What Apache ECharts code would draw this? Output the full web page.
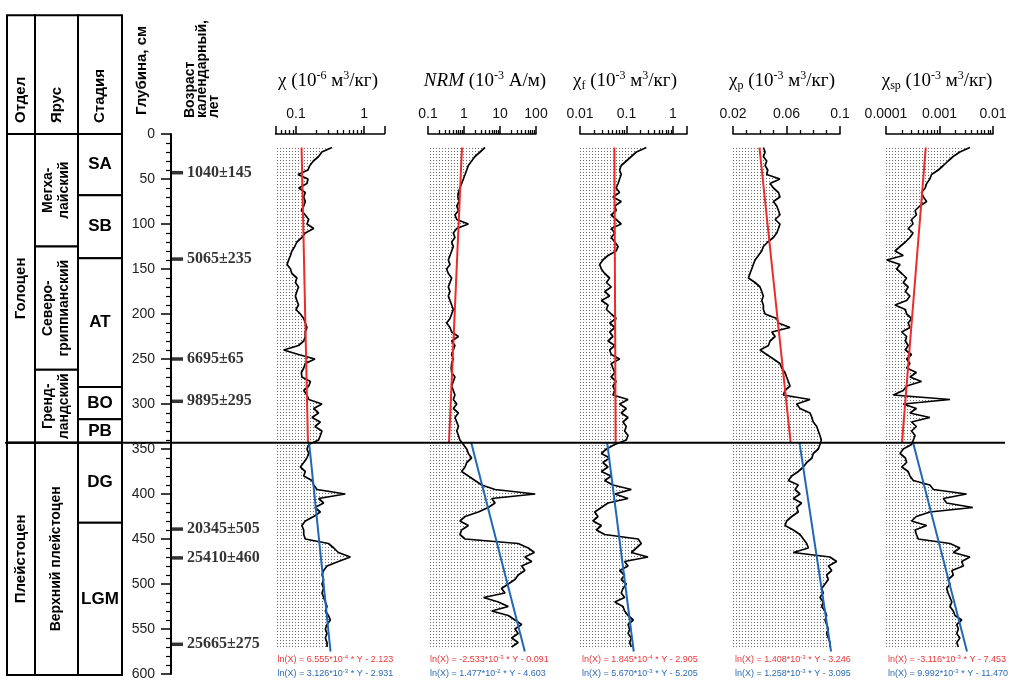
<!DOCTYPE html>
<html>
<head>
<meta charset="utf-8">
<script src="https://cdn.jsdelivr.net/npm/echarts@6/dist/echarts.min.js"></script>
<style>
  html, body { margin: 0; padding: 0; background: #fff; }
  #chart { width: 1011px; height: 680px; }
</style>
</head>
<body>
<div id="chart"></div>
<script>
// ---------- Core data: magnetic parameters vs depth (cm), sampled every 5 cm from 15 cm ----------
const DEPTH_FIRST = 15;
const DEPTH_STEP = 5;

// χ, 10^-6 m3/kg
const chiValues = [
  0.338,0.24,0.215,0.18,0.16,0.15,0.107,0.15,0.145,0.11,
  0.137,0.13,0.137,0.13,0.12,0.137,0.154,0.145,0.182,0.137,
  0.122,0.103,0.096,0.087,0.083,0.078,0.074,0.083,0.087,0.103,
  0.098,0.109,0.103,0.098,0.103,0.109,0.1,0.116,0.13,0.137,
  0.145,0.137,0.137,0.13,0.109,0.066,0.109,0.19,0.137,0.13,
  0.12,0.122,0.163,0.154,0.13,0.145,0.154,0.241,0.182,0.215,
  0.172,0.228,0.19,0.241,0.228,0.215,0.154,0.145,0.154,0.145,
  0.13,0.116,0.137,0.13,0.172,0.182,0.204,0.53,0.215,0.255,
  0.19,0.228,0.182,0.137,0.122,0.13,0.13,0.137,0.30,0.36,
  0.42,0.63,0.42,0.286,0.255,0.241,0.255,0.241,0.255,0.241,
  0.255,0.27,0.286,0.27,0.30,0.32,0.286,0.27,0.286,0.27,
  0.286,0.286
];
// NRM, 10^-3 A/m
const nrmValues = [
  3.83,2.8,2.02,1.63,1.32,1.19,1.07,0.96,0.86,0.77,
  0.70,0.67,0.74,0.63,0.70,0.56,0.63,1.32,0.63,0.505,
  0.56,0.454,0.505,0.454,0.408,0.367,0.408,0.33,0.367,0.454,
  0.408,0.367,0.408,0.367,0.408,0.454,0.505,0.454,0.408,0.33,
  0.408,0.454,0.70,0.454,0.56,0.505,0.454,0.505,0.454,0.44,
  0.454,0.56,0.505,0.454,0.505,0.56,0.505,0.63,0.505,0.70,
  0.56,0.63,0.70,0.63,0.70,0.77,0.96,1.19,1.32,1.63,
  1.19,1.07,0.86,1.32,2.02,3.1,7.3,95,5.9,7.3,
  4.7,2.5,1.07,0.77,1.32,0.86,0.77,1.07,32,61,
  90,49,76,40,49,32,26,17,11,13.8,
  3.5,9,17,5.9,17,26,40,26,32,21,
  32,21
];
// χf, 10^-3 m3/kg
const chiFValues = [
  0.267,0.163,0.127,0.099,0.077,0.071,0.077,0.071,0.066,0.060,
  0.071,0.051,0.077,0.056,0.060,0.047,0.060,0.077,0.047,0.056,
  0.047,0.056,0.066,0.060,0.040,0.031,0.0265,0.0288,0.034,0.0435,
  0.037,0.047,0.034,0.0435,0.0288,0.040,0.037,0.047,0.060,0.0435,
  0.056,0.0435,0.051,0.040,0.056,0.0435,0.047,0.071,0.047,0.051,
  0.056,0.047,0.060,0.051,0.056,0.051,0.108,0.071,0.099,0.077,
  0.108,0.084,0.099,0.091,0.108,0.099,0.056,0.037,0.0288,0.0435,
  0.031,0.040,0.0288,0.047,0.034,0.051,0.127,0.056,0.108,0.040,
  0.0288,0.0207,0.0244,0.019,0.0288,0.0225,0.034,0.178,0.208,0.163,
  0.127,0.29,0.091,0.108,0.071,0.091,0.077,0.099,0.084,0.077,
  0.091,0.056,0.084,0.091,0.108,0.14,0.108,0.117,0.108,0.127,
  0.117,0.127
];
// χp, 10^-3 m3/kg
const chiPValues = [
  0.0427,0.044,0.0427,0.0452,0.044,0.046,0.0452,0.0551,0.0477,0.0502,
  0.054,0.0551,0.0502,0.0527,0.054,0.0551,0.0515,0.0551,0.054,0.0527,
  0.0502,0.046,0.0427,0.0415,0.039,0.0365,0.0352,0.034,0.0327,0.0315,
  0.0365,0.0402,0.0415,0.0427,0.0415,0.0427,0.0427,0.044,0.0527,0.054,
  0.0626,0.049,0.0515,0.0477,0.0465,0.0402,0.0452,0.0502,0.0551,0.0564,
  0.0589,0.0601,0.0614,0.0626,0.0589,0.0576,0.0776,0.0676,0.0701,0.0776,
  0.079,0.08,0.0826,0.0838,0.085,0.086,0.085,0.0838,0.08,0.079,
  0.0751,0.0726,0.0688,0.0639,0.0614,0.0688,0.0664,0.0701,0.0651,0.0713,
  0.0676,0.0688,0.0639,0.0601,0.0589,0.0651,0.0701,0.0726,0.0751,0.0764,
  0.0651,0.0925,0.0975,0.0913,0.0938,0.09,0.0913,0.0888,0.0863,0.0875,
  0.085,0.0875,0.0863,0.0888,0.09,0.0888,0.09,0.0913,0.09,0.0913,
  0.0925,0.0925
];
// χsp, 10^-3 m3/kg
const chiSpValues = [
  3.7e-3,2.4e-3,1.8e-3,1.45e-3,1.18e-3,9.5e-4,7.1e-4,6.6e-4,5.75e-4,5.4e-4,
  4.6e-4,5e-4,5.75e-4,4.3e-4,3.5e-4,3.7e-4,3.0e-4,3.2e-4,2.6e-4,3.2e-4,
  2.8e-4,2.3e-4,1.83e-4,1.47e-4,2.1e-4,1.03e-4,1.83e-4,1.58e-4,1.97e-4,2.43e-4,
  2.1e-4,2.6e-4,2.3e-4,2.8e-4,2.43e-4,1.47e-4,2.3e-4,2.43e-4,3e-4,2.6e-4,
  2.8e-4,1.97e-4,2.43e-4,2.3e-4,2.6e-4,2.3e-4,3e-4,2.43e-4,2.8e-4,2.43e-4,
  3.7e-4,2.8e-4,4.6e-4,2.43e-4,2.1e-4,1.37e-4,1.57e-3,2.1e-4,3.7e-4,2.8e-4,
  6.6e-4,3e-4,3.7e-4,3e-4,3.5e-4,3.24e-4,3e-4,2.1e-4,1.83e-4,2.3e-4,
  2.43e-4,1.97e-4,2.6e-4,2.8e-4,3.24e-4,6.6e-4,7.7e-4,3.2e-3,1.18e-3,1.36e-3,
  4.2e-3,6.6e-4,3.7e-4,3e-4,5.75e-4,3.5e-4,3.7e-4,4e-4,1.57e-3,2.4e-3,
  1.81e-3,3.7e-3,2.6e-3,2.8e-3,1.7e-3,1.81e-3,1.45e-3,1.57e-3,1.36e-3,1.45e-3,
  1.57e-3,1.7e-3,1.57e-3,1.81e-3,1.95e-3,2.6e-3,2.1e-3,2.25e-3,2.1e-3,2.4e-3,
  2.1e-3,2.25e-3
];

// Regression lines ln(X) = a*10^e * Y + b : Holocene (red) and Pleistocene (blue)
const holoSlopeMant = [6.555, -2.533, 1.845, 1.408, -3.116];
const holoSlopeExp  = [-4, -3, -4, -3, -3];
const holoIntercept = [-2.123, -0.091, -2.905, -3.246, -7.453];
const pleiSlopeMant = [3.126, 1.477, 5.670, 1.258, 9.992];
const pleiSlopeExp  = [-3, -2, -3, -3, -3];
const pleiIntercept = [-2.931, -4.603, -5.205, -3.095, -11.470];
const holoDepthRange = [15, 343];
const pleiDepthRange = [343, 575];
const BOUNDARY_DEPTH = 343;

// Axis ranges and ticks
const chiRange = [0.05, 2],     chiLabels = [0.1, 1],            chiMinor = [0.06,0.07,0.08,0.09,0.2,0.3,0.4,0.5,0.6,0.7,0.8,0.9];
const nrmRange = [0.1, 100],    nrmLabels = [0.1, 1, 10, 100],   nrmMinor = [0.2,0.3,0.4,0.5,0.6,0.7,0.8,0.9,2,3,4,5,6,7,8,9,20,30,40,50,60,70,80,90];
const chiFRange = [0.01, 2],    chiFLabels = [0.01, 0.1, 1],     chiFMinor = [0.02,0.03,0.04,0.05,0.06,0.07,0.08,0.09,0.2,0.3,0.4,0.5,0.6,0.7,0.8,0.9];
const chiPRange = [0.02, 0.1],  chiPLabels = [0.02, 0.06, 0.1],  chiPMinor = [0.03,0.04,0.05,0.07,0.08,0.09];
const chiSpRange = [0.0001, 0.01], chiSpLabels = [0.0001, 0.001, 0.01], chiSpMinor = [0.0002,0.0003,0.0004,0.0005,0.0006,0.0007,0.0008,0.0009,0.002,0.003,0.004,0.005,0.006,0.007,0.008,0.009];

// Depth scale and radiocarbon ages
const depthRange = [0, 600];
const depthInterval = 50;
const ageDepths = [43, 139, 250, 297, 439, 471, 567];
const ageLabels = ['1040±145', '5065±235', '6695±65', '9895±295', '20345±505', '25410±460', '25665±275'];

// Stratigraphic table
const tableHeaders = ['Отдел', 'Ярус', 'Стадия'];
const divisionNames = ['Голоцен', 'Плейстоцен'];
const divisionBounds = [0, 343, 601];
const stageNames = ['Мегха-\nлайский', 'Северо-\nгриппианский', 'Гренд-\nландский', 'Верхний плейстоцен'];
const stageBounds = [0, 125, 262, 343, 601];
const phaseNames = ['SA', 'SB', 'AT', 'BO', 'PB', 'DG', 'LGM'];
const phaseBounds = [0, 68, 138, 281, 317, 343, 432, 601];

// ---------- Layout ----------
const PLOT_TOP = 134, PLOT_H = 540;           // depth 0..600
const TABLE_HEAD_DEPTH = -132;                 // header row extends above depth 0
const TABLE_LEFT = 7, TABLE_W = 115;
const COL_EDGES = [0, 28, 71, 115];
const SERIF = '"Liberation Serif", "Times New Roman", serif';
const SANS = '"Liberation Sans", Arial, sans-serif';
const RED = '#ee2a2a', BLUE = '#1f68b8';
const RED_TXT = '#e8383c', BLUE_TXT = '#2b6cb3';

const panels = [
  { key: 'chi',   type: 'log',   range: chiRange,   labels: chiLabels,   minor: chiMinor,   values: chiValues,   left: 275.5, width: 109,
    title: '{t|χ (10}{p|-6}{t| м}{p|3}{t|/кг)}', titleX: 328 },
  { key: 'nrm',   type: 'log',   range: nrmRange,   labels: nrmLabels,   minor: nrmMinor,   values: nrmValues,   left: 428,   width: 108,
    title: '{i|NRM}{t| (10}{p|-3}{t| А/м)}', titleX: 485 },
  { key: 'chiF',  type: 'log',   range: chiFRange,  labels: chiFLabels,  minor: chiFMinor,  values: chiFValues,  left: 580,   width: 107,
    title: '{t|χ}{b|f}{t| (10}{p|-3}{t| м}{p|3}{t|/кг)}', titleX: 625 },
  { key: 'chiP',  type: 'value', range: chiPRange,  labels: chiPLabels,  minor: chiPMinor,  values: chiPValues,  left: 733,   width: 107,
    title: '{t|χ}{b|p}{t| (10}{p|-3}{t| м}{p|3}{t|/кг)}', titleX: 782 },
  { key: 'chiSp', type: 'log',   range: chiSpRange, labels: chiSpLabels, minor: chiSpMinor, values: chiSpValues, left: 886,   width: 107,
    title: '{t|χ}{b|sp}{t| (10}{p|-3}{t| м}{p|3}{t|/кг)}', titleX: 937 }
];

// Depth categories for the profile curves (category axis, 5 cm step)
const depthCats = [];
for (let d = depthRange[0]; d <= depthRange[1]; d += DEPTH_STEP) depthCats.push(String(d));

function toCategorySeries(values) {
  return depthCats.map(c => {
    const i = (Number(c) - DEPTH_FIRST) / DEPTH_STEP;
    return (i >= 0 && i < values.length) ? values[i] : '-';
  });
}

function regression(mant, exp, b, depth) {
  return Math.exp(mant * Math.pow(10, exp) * depth + b);
}

function fmtTick(v) { return String(+(+v).toPrecision(6)); }

function dotPattern() {
  const c = document.createElement('canvas');
  c.width = 3; c.height = 3;
  const g = c.getContext('2d');
  g.fillStyle = '#6b6b6b';
  g.fillRect(1, 1, 1, 1);
  return c;
}
const DOTS = dotPattern();

// ---------- Build option ----------
const grids = [], xAxes = [], yAxes = [], series = [];

panels.forEach((p, k) => {
  grids.push({ left: p.left, top: PLOT_TOP, width: p.width, height: PLOT_H, outerBoundsMode: 'none' });
  const majorTicks = [p.range[0]].concat(p.labels.filter(v => v !== p.range[0] && v !== p.range[1]), [p.range[1]]);
  xAxes.push({
    gridIndex: k, type: p.type, logBase: 10, min: p.range[0], max: p.range[1], position: 'top',
    axisLine: { show: true, onZero: false, lineStyle: { color: '#000', width: 1.5 } },
    axisTick: { show: true, inside: false, length: 8, customValues: majorTicks, lineStyle: { color: '#000', width: 1.5 } },
    axisLabel: { show: true, customValues: p.labels, margin: 13, formatter: fmtTick, color: '#111', fontFamily: SANS, fontSize: 14 },
    splitLine: { show: false }
  });
  xAxes.push({
    gridIndex: k, type: p.type, logBase: 10, min: p.range[0], max: p.range[1], position: 'top',
    axisLine: { show: false, onZero: false },
    axisTick: { show: true, inside: false, length: 4, customValues: p.minor, lineStyle: { color: '#000', width: 1.3 } },
    axisLabel: { show: false },
    splitLine: { show: false }
  });
  yAxes.push({
    gridIndex: k, type: 'category', data: depthCats, inverse: true, boundaryGap: false,
    axisLine: { show: false }, axisTick: { show: false }, axisLabel: { show: false }, splitLine: { show: false }
  });
  yAxes.push({
    gridIndex: k, type: 'value', min: depthRange[0], max: depthRange[1], inverse: true, show: false
  });

  series.push({
    type: 'line', name: p.key, xAxisIndex: 2 * k, yAxisIndex: 2 * k,
    data: toCategorySeries(p.values), symbol: 'none', silent: true, z: 2,
    lineStyle: { color: '#000', width: 1.7 },
    areaStyle: { origin: 'start', opacity: 1, color: { image: DOTS, repeat: 'repeat' } }
  });
  const holo = holoDepthRange.map(d => [regression(holoSlopeMant[k], holoSlopeExp[k], holoIntercept[k], d), d]);
  const plei = pleiDepthRange.map(d => [regression(pleiSlopeMant[k], pleiSlopeExp[k], pleiIntercept[k], d), d]);
  series.push({ type: 'line', xAxisIndex: 2 * k, yAxisIndex: 2 * k + 1, data: holo, symbol: 'none', silent: true, z: 3,
    lineStyle: { color: RED, width: 2 } });
  series.push({ type: 'line', xAxisIndex: 2 * k, yAxisIndex: 2 * k + 1, data: plei, symbol: 'none', silent: true, z: 3,
    lineStyle: { color: BLUE, width: 2 } });
});

// Depth axis with age markers
const depthGrid = grids.length;
grids.push({ left: 171, top: PLOT_TOP, width: 12, height: PLOT_H, outerBoundsMode: 'none' });
const depthX = xAxes.length;
xAxes.push({ gridIndex: depthGrid, type: 'value', min: 0, max: 12, show: false });
const depthY = yAxes.length;
yAxes.push({
  gridIndex: depthGrid, type: 'value', min: depthRange[0], max: depthRange[1], interval: depthInterval, inverse: true, position: 'left',
  axisLine: { show: true, lineStyle: { color: '#000', width: 2 } },
  axisTick: { show: true, inside: false, length: 10, lineStyle: { color: '#000', width: 1.5 } },
  minorTick: { show: true, splitNumber: 5, length: 5, lineStyle: { color: '#000', width: 1.2 } },
  axisLabel: { margin: 16, color: '#222', fontFamily: SANS, fontSize: 14 },
  splitLine: { show: false }, minorSplitLine: { show: false }
});
const AGE_MARK_X = 6;
series.push({
  type: 'scatter', xAxisIndex: depthX, yAxisIndex: depthY, silent: true, z: 5,
  data: ageDepths.map(d => [AGE_MARK_X, d]),
  symbol: 'rect', symbolSize: [12, 3.5], itemStyle: { color: '#000' },
  label: { show: true, position: 'right', distance: 4, formatter: p => ageLabels[p.dataIndex],
    fontFamily: SERIF, fontWeight: 'bold', fontSize: 16, color: '#000' }
});

// Stratigraphic table
const tableGrid = grids.length;
grids.push({ left: TABLE_LEFT, top: PLOT_TOP + TABLE_HEAD_DEPTH * 0.9, width: TABLE_W, height: (601 - TABLE_HEAD_DEPTH) * 0.9, outerBoundsMode: 'none' });
const tableX = xAxes.length;
xAxes.push({ gridIndex: tableGrid, type: 'value', min: 0, max: TABLE_W, show: false });
const tableY = yAxes.length;
yAxes.push({ gridIndex: tableGrid, type: 'value', min: TABLE_HEAD_DEPTH, max: 601, inverse: true, show: false });

const cells = [];
tableHeaders.forEach((t, c) => cells.push({ col: c, top: TABLE_HEAD_DEPTH, bottom: 0, text: t, kind: 'head' }));
divisionNames.forEach((t, i) => cells.push({ col: 0, top: divisionBounds[i], bottom: divisionBounds[i + 1], text: t, kind: 'div' }));
stageNames.forEach((t, i) => cells.push({ col: 1, top: stageBounds[i], bottom: stageBounds[i + 1], text: t, kind: 'stage' }));
phaseNames.forEach((t, i) => cells.push({ col: 2, top: phaseBounds[i], bottom: phaseBounds[i + 1], text: t, kind: 'phase' }));

function renderCell(params, api) {
  const cell = cells[params.dataIndex];
  const col = api.value(0);
  const p0 = api.coord([COL_EDGES[col], api.value(1)]);
  const p1 = api.coord([COL_EDGES[col + 1], api.value(2)]);
  const cx = (p0[0] + p1[0]) / 2, cy = (p0[1] + p1[1]) / 2;
  let text;
  if (cell.kind === 'head') {
    text = { type: 'text', x: cx, y: p1[1] - 11, rotation: Math.PI / 2,
      style: { text: cell.text, font: 'bold 15px ' + SANS, fill: '#000', align: 'left', verticalAlign: 'middle' } };
  } else if (cell.kind === 'div') {
    text = { type: 'text', x: cx, y: cy, rotation: Math.PI / 2,
      style: { text: cell.text, font: 'bold 15px ' + SANS, fill: '#000', align: 'center', verticalAlign: 'middle' } };
  } else if (cell.kind === 'stage') {
    text = { type: 'text', x: cx, y: cy, rotation: Math.PI / 2,
      style: { text: cell.text, font: 'bold 14px ' + SANS, lineHeight: 16, fill: '#000', align: 'center', verticalAlign: 'middle' } };
  } else {
    text = { type: 'text', x: cx, y: cy,
      style: { text: cell.text, font: 'bold 17px ' + SANS, fill: '#000', align: 'center', verticalAlign: 'middle' } };
  }
  return { type: 'group', children: [
    { type: 'rect', shape: { x: p0[0], y: p0[1], width: p1[0] - p0[0], height: p1[1] - p0[1] },
      style: { fill: '#fff', stroke: '#000', lineWidth: 2 } },
    text
  ] };
}
series.push({
  type: 'custom', xAxisIndex: tableX, yAxisIndex: tableY, silent: true, z: 1,
  data: cells.map(c => [c.col, c.top, c.bottom]),
  renderItem: renderCell, clip: false
});

const chart = echarts.init(document.getElementById('chart'), null, { renderer: 'canvas' });
chart.setOption({
  animation: false,
  backgroundColor: '#fff',
  grid: grids, xAxis: xAxes, yAxis: yAxes, series: series
});

// ---------- Text blocks and the Holocene / Pleistocene boundary ----------
function equationText(mant, exp, b) {
  const sign = b < 0 ? ' - ' : ' + ';
  return '{e|ln(X) = ' + mant.toFixed(3) + '*10}{s|' + exp + '}{e| * Y' + sign + Math.abs(b).toFixed(3) + '}';
}
function eqRich(color) {
  return {
    e: { fontFamily: SANS, fontSize: 9, fill: color, lineHeight: 12 },
    s: { fontFamily: SANS, fontSize: 6, fill: color, lineHeight: 7, verticalAlign: 'top' }
  };
}
const titleRich = {
  t: { fontFamily: SERIF, fontSize: 19, fill: '#000', lineHeight: 22 },
  i: { fontFamily: SERIF, fontSize: 19, fontStyle: 'italic', fill: '#000', lineHeight: 22 },
  p: { fontFamily: SERIF, fontSize: 12, fill: '#000', lineHeight: 10, verticalAlign: 'top' },
  b: { fontFamily: SERIF, fontSize: 12, fill: '#000', lineHeight: 10, verticalAlign: 'bottom' }
};

const boundaryY = chart.convertToPixel({ gridIndex: depthGrid }, [0, BOUNDARY_DEPTH])[1];
const elements = [];
panels.forEach((p, k) => {
  elements.push({ type: 'text', x: p.titleX, y: 81, silent: true,
    style: { text: p.title, rich: titleRich, align: 'center', verticalAlign: 'middle' } });
  elements.push({ type: 'text', x: p.left + 2, y: 660, silent: true,
    style: { text: equationText(holoSlopeMant[k], holoSlopeExp[k], holoIntercept[k]), rich: eqRich(RED_TXT), align: 'left', verticalAlign: 'middle' } });
  elements.push({ type: 'text', x: p.left + 2, y: 674, silent: true,
    style: { text: equationText(pleiSlopeMant[k], pleiSlopeExp[k], pleiIntercept[k]), rich: eqRich(BLUE_TXT), align: 'left', verticalAlign: 'middle' } });
});
elements.push({ type: 'text', x: 142, y: 115, rotation: Math.PI / 2, silent: true,
  style: { text: 'Глубина, см', font: 'bold 15px ' + SANS, fill: '#000', align: 'left', verticalAlign: 'middle' } });
[['Возраст', 190], ['календарный,', 202], ['лет', 214]].forEach(([t, x]) => {
  elements.push({ type: 'text', x: x, y: 118, rotation: Math.PI / 2, silent: true,
    style: { text: t, font: 'bold 14px ' + SANS, fill: '#000', align: 'left', verticalAlign: 'middle' } });
});
elements.push({ type: 'line', silent: true, z: 10,
  shape: { x1: 5, y1: boundaryY, x2: 1005, y2: boundaryY }, style: { stroke: '#000', lineWidth: 2 } });

chart.setOption({ graphic: { elements: elements } });
</script>
</body>
</html>
